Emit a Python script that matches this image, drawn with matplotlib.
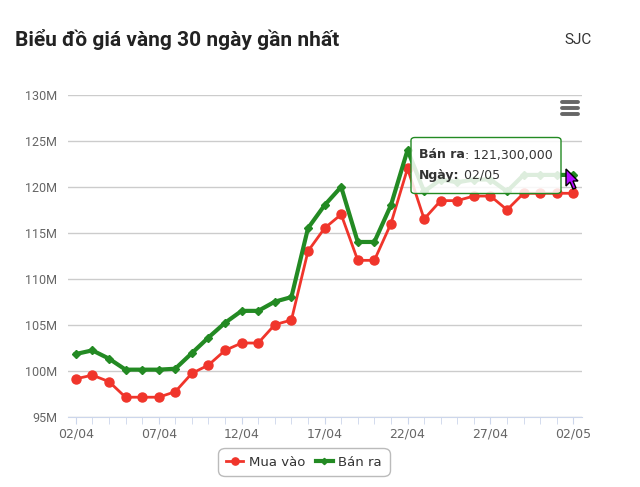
import matplotlib
matplotlib.use("Agg")
import matplotlib.pyplot as plt
from matplotlib.patches import FancyBboxPatch, Polygon
from matplotlib.lines import Line2D
from matplotlib.ticker import MultipleLocator, FuncFormatter

# data (million VND per luong)
dates = ["02/04", "03/04", "04/04", "05/04", "06/04", "07/04", "08/04", "09/04",
         "10/04", "11/04", "12/04", "13/04", "14/04", "15/04", "16/04", "17/04",
         "18/04", "19/04", "20/04", "21/04", "22/04", "23/04", "24/04", "25/04",
         "26/04", "27/04", "28/04", "29/04", "30/04", "01/05", "02/05"]
mua_vao = [99.1, 99.5, 98.8, 97.1, 97.1, 97.1, 97.7, 99.7, 100.6, 102.2, 103.0,
           103.0, 105.0, 105.5, 113.0, 115.5, 117.0, 112.0, 112.0, 116.0, 122.0,
           116.5, 118.5, 118.5, 119.0, 119.0, 117.5, 119.3, 119.3, 119.3, 119.3]
ban_ra = [101.8, 102.2, 101.3, 100.1, 100.1, 100.1, 100.2, 101.9, 103.6, 105.2,
          106.5, 106.5, 107.5, 108.0, 115.5, 118.0, 120.0, 114.0, 114.0, 118.0,
          124.0, 119.5, 120.8, 120.5, 120.8, 120.8, 119.5, 121.3, 121.3, 121.3,
          121.3]
yticks = [95, 100, 105, 110, 115, 120, 125, 130]

red = "#f0352b"
green = "#238a23"
W, H = 640, 487

fig = plt.figure(figsize=(6.4, 4.87), dpi=100)
ax = fig.add_axes([68.3 / W, 1 - 416.5 / H, (581.7 - 68.3) / W, (416.5 - 95) / H])

x = list(range(len(dates)))
ax.plot(x, mua_vao, color=red, lw=2, marker="o", ms=6.5, label="Mua vào", zorder=3)
ax.plot(x, ban_ra, color=green, lw=3, marker="D", ms=4, label="Bán ra", zorder=4)

ax.set_xlim(-0.45, 30.5)
ax.set_ylim(95, 130)
ax.set_yticks(yticks)
ax.yaxis.set_major_formatter(FuncFormatter(lambda v, p: "%dM" % v))
ax.set_xticks(x[::5])
ax.set_xticklabels(dates[::5])
ax.xaxis.set_minor_locator(MultipleLocator(1))
ax.grid(axis="y", color="#cccccc", lw=1)
ax.set_axisbelow(True)
for s in ["top", "right", "left"]:
    ax.spines[s].set_visible(False)
ax.spines["bottom"].set_color("#ccd6eb")
ax.tick_params(axis="y", length=0, pad=8, labelsize=9, labelcolor="#666666")
for lab in ax.get_yticklabels():
    lab.set_family("Roboto")
ax.tick_params(axis="x", which="both", length=5, color="#ccd6eb", labelsize=9,
               labelcolor="#666666", pad=3)

# tooltip
for fc, ec, z in [("white", "none", 10), ("none", green, 11)]:
    fig.add_artist(FancyBboxPatch((411 / W, 1 - 193.5 / H), 150 / W, 56 / H,
                                  boxstyle="round,pad=0,rounding_size=0.006",
                                  transform=fig.transFigure, facecolor=fc,
                                  alpha=0.85 if ec == "none" else 1,
                                  edgecolor=ec, lw=1, zorder=z))

fig.canvas.draw()
r = fig.canvas.get_renderer()
for yy, bold, rest in [(155, "Bán ra", ": 121,300,000"), (175, "Ngày:", " 02/05")]:
    tb = fig.text(419 / W, 1 - yy / H, bold, fontsize=9, fontweight="bold",
                  color="#333333", va="center", zorder=12)
    bb = tb.get_window_extent(r)
    fig.text(bb.x1 / W, 1 - yy / H, rest, fontsize=9, color="#333333",
             va="center", zorder=12)

# cursor
cur = [(0, 0), (0, 17), (4, 13), (7, 20), (10, 19), (7, 12), (12, 12)]
cur = [((566 + a) / W, 1 - (169 + b) / H) for a, b in cur]
fig.add_artist(Polygon(cur, closed=True, transform=fig.transFigure,
                       facecolor="#b40bff", edgecolor="black", lw=1, zorder=13))

# menu icon
for yy in [102, 108, 114]:
    fig.add_artist(Line2D([562 / W, 578 / W], [1 - yy / H, 1 - yy / H], color="#666666",
                          lw=2.8, solid_capstyle="round", transform=fig.transFigure))

fig.text(15 / W, 1 - 40 / H, "Biểu đồ giá vàng 30 ngày gần nhất", fontsize=15,
         fontweight="bold", family="Roboto", color="#222222", va="center")
fig.text(592 / W, 1 - 40 / H, "SJC", fontsize=11, family="Roboto", color="#333333",
         va="center", ha="right")

leg = fig.legend(loc="center", bbox_to_anchor=(304 / W, 1 - 462 / H), ncol=2,
                 frameon=True, fontsize=9.5, handlelength=1.3, columnspacing=0.8,
                 handletextpad=0.4, borderpad=0.4, markerscale=0.8)
leg.get_frame().set_edgecolor("#aaaaaa")
leg.get_frame().set_boxstyle("round,pad=0.2,rounding_size=0.5")
for t in leg.get_texts():
    t.set_color("#333333")

fig.savefig("out.png", dpi=100)
